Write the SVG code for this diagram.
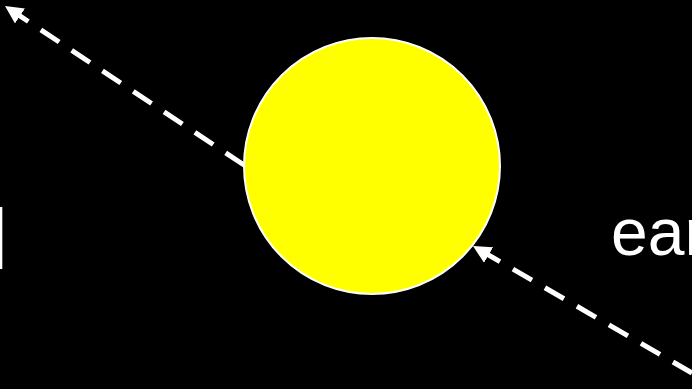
<svg xmlns="http://www.w3.org/2000/svg" width="692" height="389" viewBox="0 0 692 389">
  <style>
    .conn { fill: none; stroke: #ffffff; stroke-width: 5; stroke-dasharray: 22 15; }
    .lbl { font-family: "Liberation Sans", Arial, Helvetica, sans-serif; font-size: 66px; fill: #ffffff; }
  </style>
  <defs>
    <marker id="arrow" viewBox="0 0 18 18" refX="18" refY="9" markerWidth="18" markerHeight="18" markerUnits="userSpaceOnUse" orient="auto">
      <path d="M0,0 L18,9 L0,18 z" fill="#ffffff"/>
    </marker>
  </defs>
  <rect x="0" y="0" width="692" height="389" fill="#000000"/>
  <g id="connectors">
    <path class="conn" d="M244,165 L5,6" marker-end="url(#arrow)"/>
    <path class="conn" d="M692,373 L473,246" marker-end="url(#arrow)"/>
  </g>
  <g id="sun">
    <circle cx="372" cy="166" r="128" fill="#ffff00" stroke="#ffffff" stroke-width="2"/>
  </g>
  <g id="label-right">
    <text class="lbl" x="611" y="255">ear</text>
  </g>
  <g id="label-left">
    <text class="lbl" x="-9" y="255">|</text>
  </g>
</svg>
